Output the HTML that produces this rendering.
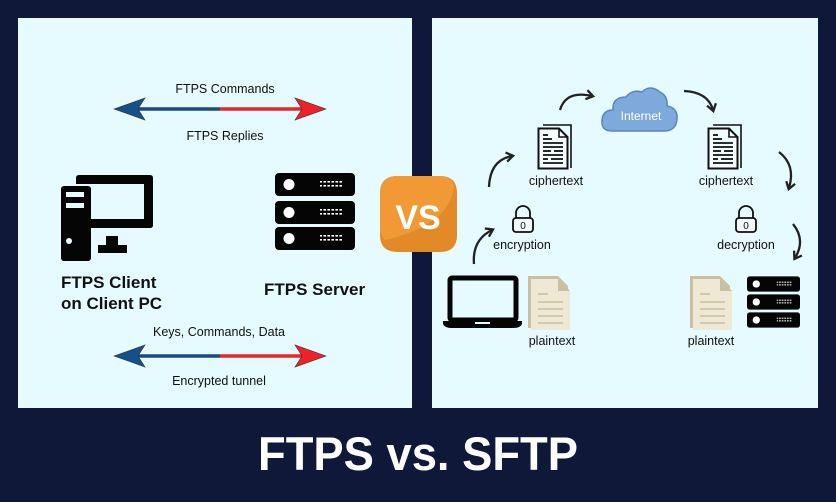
<!DOCTYPE html>
<html><head><meta charset="utf-8"><style>
html,body{margin:0;padding:0;background:#10183a;}
svg{display:block;}
text{font-family:"Liberation Sans",sans-serif;}
</style></head><body>
<svg width="836" height="502" viewBox="0 0 836 502" xmlns="http://www.w3.org/2000/svg">
<defs>
<symbol id="doc" viewBox="0 0 36 46">
 <path d="M6 1 H34 V44" fill="none" stroke="#111" stroke-width="1.6"/>
 <path d="M1.5 4.5 H22 L30.5 13 V44.5 H1.5 Z" fill="#f4fbfd" stroke="#111" stroke-width="2"/>
 <path d="M22 4.5 V13 H30.5" fill="none" stroke="#111" stroke-width="1.6"/>
 <g stroke="#111" stroke-width="1.8">
 <line x1="6" y1="11" x2="11" y2="11"/><line x1="6" y1="15" x2="15" y2="15"/>
 <line x1="6" y1="19" x2="26" y2="19"/><line x1="6" y1="23" x2="26" y2="23"/>
 <line x1="6" y1="27" x2="14" y2="27"/><line x1="17" y1="27" x2="26" y2="27"/>
 <line x1="6" y1="31" x2="26" y2="31"/><line x1="6" y1="35" x2="11" y2="35"/><line x1="14" y1="35" x2="26" y2="35"/>
 <line x1="6" y1="39" x2="26" y2="39"/></g>
</symbol>
<symbol id="pdoc" viewBox="0 0 42 54">
 <path d="M0 0 H30 L40 10 V52 H0 Z" fill="#c9c0a2"/>
 <path d="M3 3 H30 L42 15 V54 H3 Z" fill="#efe8d4"/>
 <path d="M30 3 V15 H42 Z" fill="#c9c0a2"/>
 <g stroke="#c8bf9f" stroke-width="1.6"><line x1="10" y1="18" x2="20" y2="18"/><line x1="10" y1="26" x2="35" y2="26"/><line x1="10" y1="33" x2="35" y2="33"/><line x1="10" y1="40" x2="35" y2="40"/><line x1="10" y1="47" x2="35" y2="47"/></g>
</symbol>
<symbol id="srvrow" viewBox="0 0 80 23">
 <rect x="0" y="0" width="80" height="23" rx="4" fill="#050505"/>
 <circle cx="14" cy="11.5" r="5.5" fill="#fff"/>
 <g fill="#fff"><rect x="45" y="8" width="22" height="1.6"/><rect x="45" y="12" width="22" height="1.6"/></g>
 <g fill="#050505"><rect x="47" y="7" width="1.4" height="8"/><rect x="51" y="7" width="1.4" height="8"/><rect x="55" y="7" width="1.4" height="8"/><rect x="59" y="7" width="1.4" height="8"/><rect x="63" y="7" width="1.4" height="8"/></g>
</symbol>
<symbol id="lock" viewBox="0 0 22 30">
 <path d="M4 15 V10 A7 7 0 0 1 18 10 V15" fill="none" stroke="#111" stroke-width="1.8"/>
 <rect x="1" y="15" width="20" height="14" rx="3" fill="#f4fbfd" stroke="#111" stroke-width="1.8"/>
 <text x="11" y="26" font-size="10" text-anchor="middle" fill="#111">0</text>
</symbol>
<marker id="ah" viewBox="0 0 10 10" refX="6" refY="5" markerWidth="5" markerHeight="5" orient="auto"><path d="M1 1 L7 5 L1 9" fill="none" stroke="#222" stroke-width="2"/></marker>
</defs>
<rect width="836" height="502" fill="#10183a"/>
<rect x="18" y="18" width="394" height="390" fill="#e6fbff"/>
<rect x="432" y="18" width="386" height="390" fill="#e6fbff"/>

<text x="225" y="93" font-size="12.5" text-anchor="middle" fill="#111">FTPS Commands</text>
<text x="225" y="140" font-size="12.5" text-anchor="middle" fill="#111">FTPS Replies</text>
<g>
 <line x1="135" y1="109" x2="220" y2="109" stroke="#1a4a7e" stroke-width="3.5"/>
 <line x1="220" y1="109" x2="305" y2="109" stroke="#e8262a" stroke-width="3.5"/>
 <path d="M114 109 L145 98 L138 109 L145 120 Z" fill="#14508a" stroke="#333" stroke-width="0.6"/>
 <path d="M326 109 L295 98 L302 109 L295 120 Z" fill="#ee2129" stroke="#333" stroke-width="0.6"/>
</g>
<text x="219" y="336" font-size="12.5" text-anchor="middle" fill="#111">Keys, Commands, Data</text>
<text x="219" y="385" font-size="12.5" text-anchor="middle" fill="#111">Encrypted tunnel</text>
<g>
 <line x1="135" y1="356" x2="220" y2="356" stroke="#1a4a7e" stroke-width="3.5"/>
 <line x1="220" y1="356" x2="305" y2="356" stroke="#e8262a" stroke-width="3.5"/>
 <path d="M114 356 L145 345 L138 356 L145 367 Z" fill="#14508a" stroke="#333" stroke-width="0.6"/>
 <path d="M326 356 L295 345 L302 356 L295 367 Z" fill="#ee2129" stroke="#333" stroke-width="0.6"/>
</g>
<g>
 <path d="M76 178 Q76 175 79 175 H150 Q153 175 153 178 V225 Q153 228 150 228 H90 V219 H144 V184 H76 Z" fill="#050505"/>
 <rect x="61" y="186" width="30" height="75" rx="3" fill="#050505"/>
 <rect x="66" y="192" width="18" height="5" fill="#e6fbff"/>
 <rect x="66" y="203" width="18" height="5" fill="#e6fbff"/>
 <circle cx="69" cy="241" r="3" fill="#e6fbff"/>
 <circle cx="112" cy="232" r="2.5" fill="#e6fbff"/>
 <rect x="106" y="236" width="12" height="10" fill="#050505"/>
 <rect x="98" y="245" width="29" height="8" fill="#050505"/>
</g>
<g>
 <use href="#srvrow" x="275" y="173" width="80" height="23"/>
 <use href="#srvrow" x="275" y="201" width="80" height="23"/>
 <use href="#srvrow" x="275" y="227" width="80" height="23"/>
</g>
<text x="61" y="288" font-size="17" font-weight="bold" fill="#111">FTPS Client</text>
<text x="61" y="309" font-size="17" font-weight="bold" fill="#111">on Client PC</text>
<text x="264" y="295" font-size="17" font-weight="bold" fill="#111">FTPS Server</text>

<path d="M398 176 H440 Q457 176 457 193 V235 Q457 252 440 252 H398 Q380 252 380 235 V193 Q380 176 398 176 Z" fill="#e38a28"/>
<path d="M398 176 H440 Q452 176 454 186 Q450 225 385 240 Q380 235 380 228 V193 Q380 176 398 176 Z" fill="#f19a35"/>
<text x="418" y="229" font-size="34" font-weight="bold" fill="#fff" text-anchor="middle">VS</text>

<path d="M612 131 Q601 131 602 120 Q603 110 613 110 Q612 97 626 97 Q632 89 642 92 Q650 84 660 92 Q668 96 667 106 Q678 108 677 119 Q676 131 664 131 Z" fill="#7ea9dc" stroke="#5b84c2" stroke-width="1.5"/>
<text x="641" y="120" font-size="12" fill="#fff" text-anchor="middle">Internet</text>
<use href="#doc" x="537" y="124" width="36" height="46"/>
<use href="#doc" x="707" y="124" width="36" height="46"/>
<text x="556" y="185" font-size="12.5" text-anchor="middle" fill="#111">ciphertext</text>
<text x="726" y="185" font-size="12.5" text-anchor="middle" fill="#111">ciphertext</text>
<use href="#lock" x="512" y="203" width="22" height="30"/>
<use href="#lock" x="735" y="203" width="22" height="30"/>
<text x="522" y="249" font-size="12.5" text-anchor="middle" fill="#111">encryption</text>
<text x="746" y="249" font-size="12.5" text-anchor="middle" fill="#111">decryption</text>
<rect x="450" y="278" width="66" height="42" rx="2" fill="none" stroke="#050505" stroke-width="5"/>
<path d="M443 321 H522 V324 Q520 328 514 328 H451 Q445 328 443 324 Z" fill="#050505"/>
<rect x="475" y="322" width="15" height="2" fill="#e6fbff"/>
<use href="#pdoc" x="528" y="276" width="42" height="54"/>
<use href="#pdoc" x="690" y="276" width="42" height="54"/>
<text x="552" y="345" font-size="12.5" text-anchor="middle" fill="#111">plaintext</text>
<text x="711" y="345" font-size="12.5" text-anchor="middle" fill="#111">plaintext</text>
<g>
 <use href="#srvrow" x="747" y="276" width="53" height="16"/>
 <use href="#srvrow" x="747" y="294" width="53" height="16"/>
 <use href="#srvrow" x="747" y="312" width="53" height="16"/>
</g>
<g fill="none" stroke="#222" stroke-width="2.3" marker-end="url(#ah)">
 <path d="M474 264 Q472 240 492 230"/>
 <path d="M489 187 Q490 160 512 156"/>
 <path d="M560 110 Q566 90 592 96"/>
 <path d="M684 91 Q708 92 713 110"/>
 <path d="M779 152 Q796 165 789 188"/>
 <path d="M793 224 Q806 240 795 258"/>
</g>

<text x="418" y="470" font-size="47" font-weight="bold" fill="#fff" text-anchor="middle" textLength="320" lengthAdjust="spacingAndGlyphs">FTPS vs. SFTP</text>
</svg>
</body></html>
